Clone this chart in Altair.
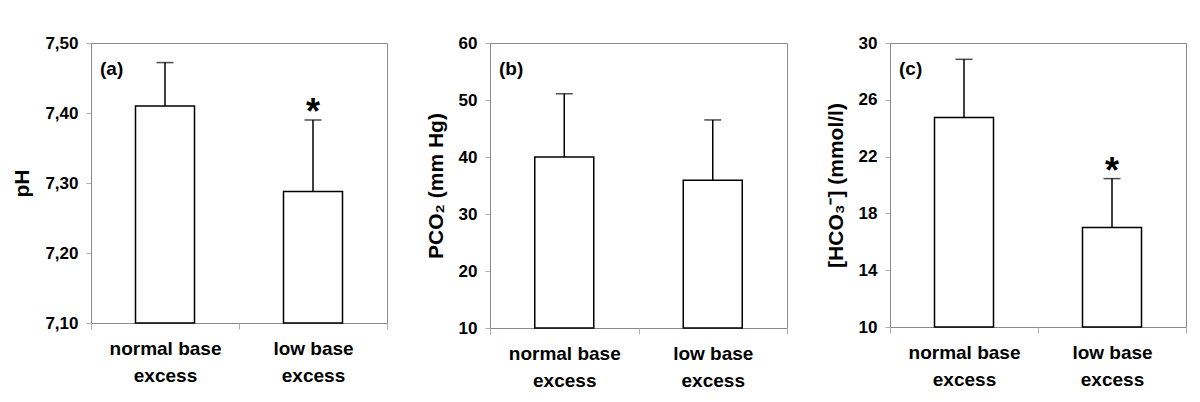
import altair as alt
import pandas as pd

groups = ["normal base excess", "low base excess"]
panel_tags = ["(a)", "(b)", "(c)"]

ph_mean = [7.41, 7.288]
ph_upper = [7.472, 7.39]
ph_sig = ["", "*"]

pco2_mean = [40.0, 35.9]
pco2_upper = [51.1, 46.5]
pco2_sig = ["", ""]

hco3_mean = [24.75, 17.0]
hco3_upper = [28.85, 20.45]
hco3_sig = ["", "*"]

ph_ticks = [7.10, 7.20, 7.30, 7.40, 7.50]
pco2_ticks = [10, 20, 30, 40, 50, 60]
hco3_ticks = [10, 14, 18, 22, 26, 30]

FONT = "Liberation Sans"
GRAY = "#8a8a8a"


def panel(mean, upper, sig, ticks, ytitle, tag, width, height, label_expr):
    df = pd.DataFrame({"group": groups, "mean": mean, "upper": upper, "sig": sig})
    lo, hi = ticks[0], ticks[-1]
    x = alt.X(
        "group:N",
        sort=groups,
        scale=alt.Scale(paddingInner=0, paddingOuter=0),
        axis=alt.Axis(
            title=None,
            labelAngle=0,
            tickBand="extent",
            labelExpr="datum.label ? [replace(datum.label, ' excess', ''), 'excess'] : ''",
            labelLineHeight=27,
            labelPadding=10,
            tickSize=6,
            domain=False,
        ),
    )
    axis_kw = dict(
        values=ticks,
        title=ytitle,
        grid=False,
        tickSize=5,
        labelPadding=8,
        titlePadding=12,
        domainColor=GRAY,
    )
    if label_expr:
        axis_kw["labelExpr"] = label_expr
    yaxis = alt.Axis(**axis_kw)
    yscale = alt.Scale(domain=[lo, hi], zero=False, nice=False)
    base = alt.Chart(df)
    bars = base.mark_bar(size=59, fill="white", stroke="black", strokeWidth=1.5).encode(
        x=x,
        y=alt.Y("mean:Q", scale=yscale, axis=yaxis),
        y2=alt.datum(lo),
    )
    err = base.mark_rule(color="black", strokeWidth=1.5).encode(
        x=alt.X("group:N", sort=groups), y="mean:Q", y2="upper:Q"
    )
    cap = base.mark_tick(color="black", size=17, thickness=1.5, orient="horizontal").encode(
        x=alt.X("group:N", sort=groups), y="upper:Q"
    )
    star = base.mark_text(
        font=FONT, fontSize=36, fontWeight="bold", baseline="middle", dy=-7, color="black"
    ).encode(x=alt.X("group:N", sort=groups), y="upper:Q", text="sig:N")
    tagtxt = alt.Chart(pd.DataFrame({"t": [tag]})).mark_text(
        font=FONT, fontSize=19, fontWeight="bold", align="left", baseline="middle", color="black"
    ).encode(x=alt.value(9), y=alt.value(26), text="t:N")
    return alt.layer(bars, err, cap, star, tagtxt).properties(width=width, height=height)


pa = panel(ph_mean, ph_upper, ph_sig, ph_ticks, "pH", panel_tags[0], 296, 280,
           "replace(format(datum.value, '.2f'), '.', ',')")
pb = panel(pco2_mean, pco2_upper, pco2_sig, pco2_ticks, "PCO₂ (mm Hg)", panel_tags[1], 297, 285, None)
pc = panel(hco3_mean, hco3_upper, hco3_sig, hco3_ticks, "[HCO₃⁻] (mmol/l)", panel_tags[2], 296, 284, None)

chart = (
    alt.hconcat(pa, pb, pc, spacing=103, bounds="flush")
    .properties(padding={"left": 3, "top": 25, "right": 5, "bottom": 5}, background="white")
    .configure_view(stroke=GRAY, strokeWidth=1)
    .configure_axis(
        labelFont=FONT,
        labelFontSize=17,
        labelFontWeight="bold",
        labelColor="black",
        titleFont=FONT,
        titleFontSize=21,
        titleFontWeight="bold",
        titleColor="black",
        tickColor="#b0b0b0",
        domainColor=GRAY,
    )
    .configure_axisX(labelFontSize=19)
)

chart.save("out.html", embed_options={"renderer": "svg", "actions": False})
